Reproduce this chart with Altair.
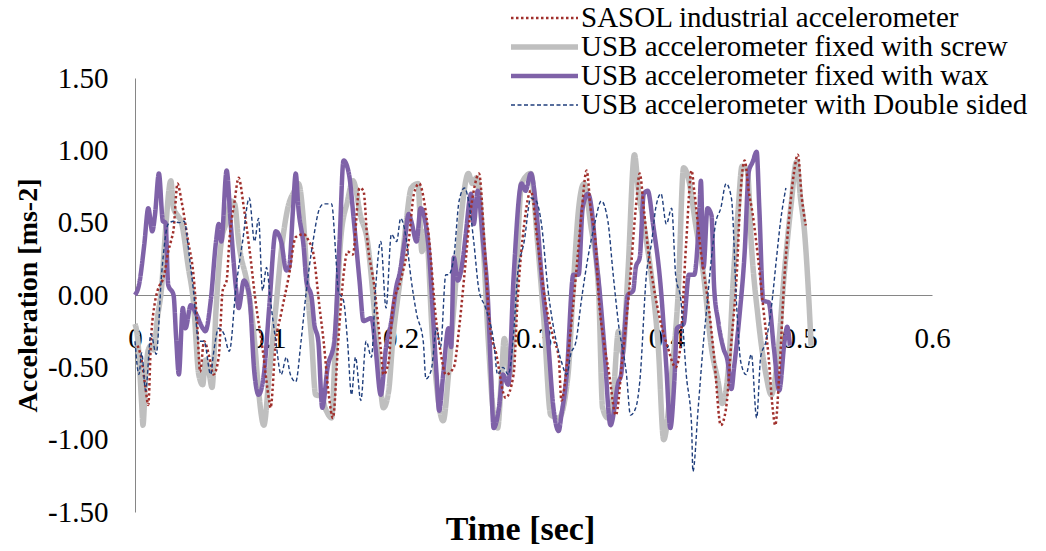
import altair as alt
import pandas as pd

series_names = [
    "SASOL industrial accelerometer",
    "USB accelerometer fixed with screw",
    "USB accelerometer fixed with wax",
    "USB accelerometer with Double sided",
]

# time in milliseconds, acceleration in m/s^2
sasol_t = [2,5,8,10,12,15,17,22,25,27,
           29,32,35,40,44,47,49,52,56,59,
           63,66,69,71,75,78,82,86,91,96,
           101,102,106,110,116,121,127,131,134,139,
           142,146,149,153,157,160,164,169,172,175,
           180,185,187,191,194,200,206,210,214,218,
           221,227,230,234,240,244,248,252,255,259,
           263,267,272,279,285,288,293,298,303,309,
           315,319,321,326,332,336,340,343,347,349,
           353,357,362,367,372,377,380,383,387,391,
           396,401,407,410,415,419,421,426,432,436,
           441,445,449,453,456,459,462,465,469,473,
           477,480,482,485,489,492,496,499,502,505]
sasol_a = [-0.35,-0.45,-0.65,-0.76,-0.32,-0.05,0.03,0.14,0.30,0.37,
           0.45,0.77,0.65,0.37,0.14,-0.23,-0.53,-0.32,-0.43,-0.55,
           -0.43,0.03,0.10,0.37,0.65,0.81,0.60,0.33,-0.06,-0.37,
           -0.73,-0.78,-0.32,-0.13,0.14,0.40,0.42,0.37,0.30,-0.09,
           -0.32,-0.70,-0.85,-0.32,0.14,0.30,0.28,0.74,0.72,0.37,
           0.07,-0.37,-0.55,-0.46,-0.09,0.10,0.37,0.70,0.77,0.63,
           0.42,-0.20,-0.39,-0.55,-0.50,-0.23,0.14,0.53,0.72,0.84,
           0.37,-0.20,-0.41,-0.71,-0.55,-0.04,0.49,0.72,0.37,-0.05,
           -0.30,-0.43,-0.73,-0.41,0.14,0.55,0.86,0.60,0.33,0.0,
           -0.32,-0.55,-0.83,-0.43,0.03,0.60,0.84,0.60,0.26,0.03,
           -0.20,-0.36,-0.50,-0.40,0.37,0.86,0.72,0.30,-0.09,-0.43,
           -0.90,-0.78,-0.32,0.14,0.72,0.93,0.72,0.56,0.26,-0.09,
           -0.43,-0.78,-0.90,-0.55,0.14,0.49,0.84,0.97,0.67,0.48]

screw_t = [0,2,5,6,8,10,12,14,17,20,
           23,27,29,32,35,40,44,48,51,53,
           56,58,61,65,69,72,75,78,85,90,
           93,97,101,106,111,115,120,123,127,130,
           133,136,140,144,148,151,155,160,164,170,
           175,180,184,187,191,194,200,204,208,213,
           216,219,224,232,236,240,245,251,254,257,
           262,266,270,273,276,278,282,287,291,298,
           303,308,313,319,326,330,334,338,343,349,
           352,356,360,364,367,371,376,379,383,390,
           394,398,404,409,413,417,422,428,434,439,
           442,447,450,454,457,461,464,469,475,479,
           483,489,494,498,501,504,508,509]
screw_a = [-0.20,-0.30,-0.75,-0.90,-0.55,-0.38,-0.35,-0.38,-0.15,0.05,
           0.45,0.79,0.60,0.55,0.50,0.20,-0.05,-0.55,-0.62,-0.45,
           -0.55,-0.64,-0.10,0.37,0.51,0.65,0.63,0.37,0.05,-0.32,
           -0.66,-0.90,-0.55,-0.09,0.37,0.60,0.72,0.77,0.49,0.03,
           -0.32,-0.69,-0.70,-0.80,-0.85,-0.30,0.40,0.65,0.79,0.54,
           0.37,-0.09,-0.55,-0.78,-0.66,-0.32,0.14,0.49,0.74,0.77,
           0.30,0.45,-0.30,-0.87,-0.55,-0.09,0.49,0.84,0.77,0.81,
           0.37,-0.32,-0.83,-0.92,-0.55,-0.30,-0.55,0.14,0.77,0.84,
           0.37,-0.20,-0.83,-0.85,-0.55,0.07,0.60,0.77,0.49,0.03,
           -0.78,-0.85,-0.70,-0.25,-0.40,0.14,0.97,0.72,0.49,0.03,
           -0.37,-1.00,-0.55,0.03,0.88,0.79,0.49,0.14,-0.37,-0.60,
           -0.75,-0.48,0.05,0.58,0.89,0.86,0.35,-0.15,-0.55,-0.69,
           -0.50,0.17,0.63,0.92,0.67,0.44,-0.16,-0.35]

wax_t = [0,3,7,10,13,15,18,21,23,25,
         29,31,33,36,38,42,46,51,53,57,
         61,63,65,69,72,76,78,82,86,90,
         93,97,101,106,110,114,116,119,121,123,
         127,129,133,135,138,141,145,150,154,157,
         161,165,169,172,178,181,185,189,193,197,
         199,203,206,208,212,215,221,224,227,229,
         232,236,238,240,243,247,249,253,255,258,
         262,266,268,270,274,277,281,285,291,294,
         298,302,306,311,315,319,321,325,330,334,
         337,341,345,347,349,353,358,364,366,368,
         371,375,377,380,383,386,390,396,400,403,
         406,408,413,417,421,425,426,428,431,434,
         436,439,443,446,449,451,455,459,462,465,
         468,470,473,477,481,485,489,491,493]
wax_a = [0.0,0.07,0.35,0.60,0.44,0.55,0.84,0.51,0.50,0.07,
         0.0,-0.30,-0.55,-0.09,-0.23,-0.07,-0.13,-0.23,-0.25,-0.04,
         0.37,0.49,0.37,0.86,0.50,0.05,-0.09,0.10,0.0,-0.55,
         -0.69,-0.55,-0.09,0.44,0.37,0.17,0.19,0.60,0.84,0.60,
         0.33,0.10,-0.02,-0.20,-0.32,-0.78,-0.50,-0.32,0.37,0.93,
         0.84,0.49,0.10,-0.18,-0.16,-0.36,-0.69,-0.36,-0.18,0.07,
         0.14,0.37,0.56,0.51,0.37,0.60,0.33,-0.09,-0.55,-0.80,
         -0.55,-0.23,-0.36,0.26,0.10,0.26,0.42,0.70,0.49,0.72,
         0.37,-0.09,-0.55,-0.92,-0.78,-0.55,-0.62,0.12,0.77,0.72,
         0.84,0.60,0.14,-0.32,-0.78,-0.94,-0.83,-0.55,0.14,0.14,
         0.60,0.70,0.49,0.26,0.10,-0.32,-0.90,-0.60,-0.55,-0.32,
         0.0,0.03,0.19,0.26,0.70,0.72,0.49,0.03,-0.50,-0.92,
         -0.60,-0.23,-0.20,0.14,0.14,0.60,0.79,0.19,0.60,0.55,
         0.05,-0.18,-0.37,-0.45,-0.65,-0.50,-0.15,0.30,0.85,0.92,
         0.99,0.60,-0.04,-0.05,-0.37,-0.66,-0.32,-0.22,-0.35]

double_t = [0,3,5,8,12,16,20,25,29,33,
            37,41,44,48,52,57,59,63,67,71,
            76,81,86,90,93,96,99,102,106,110,
            114,117,121,125,129,134,139,142,148,151,
            153,157,160,163,166,170,174,178,181,185,
            189,193,197,200,204,208,212,217,219,223,
            227,230,234,236,240,244,248,252,255,259,
            264,270,273,277,281,285,288,293,298,302,
            306,311,316,321,325,328,332,336,341,346,
            351,356,360,364,370,373,377,380,385,389,
            392,396,400,404,407,411,415,419,420,424,
            428,430,434,437,441,445,449,453,456,460,
            464,468,471,475,479,483,486,490]
double_a = [-0.32,-0.55,-0.40,-0.66,-0.27,-0.41,0.14,0.49,0.51,0.50,
            0.51,0.26,0.03,-0.32,-0.32,-0.55,-0.41,-0.23,-0.27,-0.39,
            0.05,0.37,0.67,0.37,0.53,0.03,0.19,-0.04,-0.32,-0.55,
            -0.43,-0.55,-0.60,-0.32,0.03,0.37,0.60,0.63,0.63,0.30,
            0.03,-0.04,-0.32,-0.69,-0.43,-0.73,-0.32,-0.43,0.03,0.37,
            -0.09,0.42,0.37,0.53,0.40,0.10,-0.13,-0.32,-0.58,-0.52,
            -0.23,-0.36,0.14,0.14,0.26,0.65,0.74,0.60,0.37,0.03,
            -0.09,-0.32,-0.55,-0.50,-0.55,-0.27,0.14,0.37,0.67,0.65,
            0.49,0.03,-0.27,-0.46,-0.55,-0.41,-0.32,-0.04,0.26,0.49,
            0.65,0.51,0.14,-0.20,-0.55,-0.83,-0.78,-0.60,0.14,0.37,
            0.60,0.70,0.49,0.60,0.14,-0.04,-0.55,-0.90,-1.22,-0.78,
            -0.32,-0.13,0.26,0.49,0.60,0.77,0.67,-0.09,-0.46,-0.55,
            -0.41,-0.85,-0.43,-0.32,-0.09,0.26,0.51,0.74]

x_ticks = [0, 0.1, 0.2, 0.3, 0.4, 0.5, 0.6]
y_ticks = [-1.5, -1.0, -0.5, 0.0, 0.5, 1.0, 1.5]

colors = ["#A0302C", "#BFBFBF", "#7F62A8", "#1F3E7C"]
dashes = [[2.5, 2.5], [1, 0], [1, 0], [4, 2.5]]
widths = [2.5, 5.5, 4.5, 1.4]

frames = []
for name, ts, vs in [
    (series_names[0], sasol_t, sasol_a),
    (series_names[1], screw_t, screw_a),
    (series_names[2], wax_t, wax_a),
    (series_names[3], double_t, double_a),
]:
    frames.append(pd.DataFrame({"series": name, "t": [v / 1000 for v in ts], "a": vs}))
df = pd.concat(frames, ignore_index=True)

FONT = "Liberation Serif"
GRAY = "#868686"

legend = alt.Legend(
    title=None, orient="none", legendX=373, legendY=-74,
    symbolType="stroke", symbolSize=4489, clipHeight=28, rowPadding=-1,
    labelFont=FONT, labelFontSize=29, labelColor="black", labelOffset=0,
    padding=0, labelLimit=700, symbolOffset=0,
)

x_axis = alt.Axis(
    values=x_ticks,
    labelExpr="datum.value == 0 ? '0' : format(datum.value, '.1f')",
    ticks=False, grid=False, domainColor=GRAY, domainWidth=1,
    offset=-217, labelFont=FONT, labelFontSize=29, labelColor="black",
    labelPadding=29, labelFlush=False, labelOverlap=False,
    title="Time [sec]", titleFont=FONT, titleFontSize=34,
    titleFontWeight="bold", titleColor="black", titlePadding=159,
    titleX=385, titleAlign="center",
)
y_axis = alt.Axis(
    values=y_ticks,
    labelExpr="(datum.value < 0 ? '-' : '') + format(abs(datum.value), '.2f')",
    ticks=False, grid=False, domainColor=GRAY, domainWidth=1,
    labelFont=FONT, labelFontSize=29, labelColor="black",
    labelPadding=27, labelFlush=False, labelOverlap=False,
    title="Acceleration [ms-2]", titleFont=FONT, titleFontSize=28,
    titleFontWeight="bold", titleColor="black", titlePadding=5,
)

base = alt.Chart(df).mark_line(interpolate="monotone").encode(
    x=alt.X("t:Q", scale=alt.Scale(domain=[0, 0.6], nice=False, zero=False), axis=x_axis),
    y=alt.Y("a:Q", scale=alt.Scale(domain=[-1.5, 1.5], nice=False), axis=y_axis),
    color=alt.Color("series:N", scale=alt.Scale(domain=series_names, range=colors), legend=legend),
    strokeDash=alt.StrokeDash("series:N", scale=alt.Scale(domain=series_names, range=dashes), legend=legend),
    strokeWidth=alt.StrokeWidth("series:N", scale=alt.Scale(type="ordinal", domain=series_names, range=widths), legend=legend),
)

draw_order = [series_names[1], series_names[2], series_names[0], series_names[3]]
layers = [base.transform_filter(alt.datum.series == s) for s in draw_order]

chart = alt.layer(*layers).properties(
    width=797, height=434,
    autosize=alt.AutoSizeParams(type="none"),
    padding={"left": 135, "top": 78, "right": 114, "bottom": 39},
    background="white",
).configure_view(strokeWidth=0)

chart.save("out.html", embed_options={"renderer": "svg", "actions": False})
